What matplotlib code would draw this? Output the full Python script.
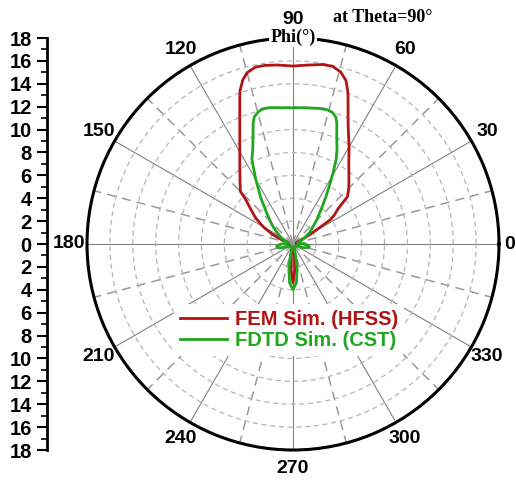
import numpy as np
import matplotlib
matplotlib.use("Agg")
import matplotlib.pyplot as plt

# Far-field pattern at Theta = 90 deg
red_phi = [0, 10, 20, 25, 28, 30, 33, 35, 38, 41, 45, 50, 55, 60, 65, 70, 72, 74.5,
           77.4, 80.5, 85, 90, 95, 99, 102, 105, 107, 109, 110, 115, 120, 125, 130,
           135, 137, 140, 145, 150, 155, 160, 165, 170, 180, 190, 200, 220, 240,
           255, 258, 262, 266, 270, 274, 278, 282, 285, 300, 320, 340, 350, 360]
red_r = [0.4, 0.3, 0.3, 0.5, 1.2, 2.0, 3.9, 4.4, 5.0, 6.3, 6.9, 7.6, 8.5, 9.8, 11.4,
         14.05, 15.0, 15.6, 15.9, 15.9, 15.7, 15.55, 15.7, 15.8, 15.8, 15.5, 15.0,
         14.2, 13.6, 11.0, 9.3, 8.1, 7.2, 6.5, 5.6, 4.9, 4.0, 3.0, 2.0, 1.0, 0.5,
         0.4, 0.4, 0.4, 0.3, 0.3, 0.3, 0.3, 0.4, 1.0, 2.3, 3.4, 2.3, 1.0, 0.4, 0.3,
         0.3, 0.3, 0.3, 0.4, 0.4]

green_phi = [0, 5, 10, 20, 25, 30, 35, 40, 45, 50, 55, 58, 61, 63, 65, 68, 70, 71.3,
             73.3, 75.6, 78, 85, 90, 95, 100, 103, 105, 107, 108.3, 110, 113, 116,
             120, 125, 130, 135, 140, 147, 155, 160, 165, 170, 175, 180, 185, 190,
             195, 200, 205, 210, 230, 250, 253, 257, 261, 265, 270, 275, 279, 283,
             287, 290, 310, 330, 335, 340, 345, 350, 355, 360]
green_r = [1.0, 0.6, 0.4, 0.6, 0.9, 1.3, 1.8, 2.2, 2.9, 3.7, 5.0, 6.0, 7.3, 8.3,
           9.1, 10.2, 11.2, 11.7, 12.0, 12.1, 12.1, 11.95, 11.9, 11.95, 12.1, 12.1,
           11.9, 11.6, 11.1, 10.2, 9.0, 8.2, 6.5, 4.9, 3.6, 2.8, 2.2, 1.5, 1.0, 0.6,
           0.4, 0.4, 0.6, 1.0, 1.35, 1.45, 1.3, 0.9, 0.5, 0.3, 0.3, 0.3, 0.4, 1.0,
           2.3, 3.4, 4.0, 3.4, 2.3, 1.0, 0.4, 0.3, 0.3, 0.3, 0.5, 0.9, 1.3, 1.45,
           1.35, 1.0]

angle_ticks = list(range(0, 360, 30))
r_ticks = list(range(2, 18, 2))

sans = "Liberation Sans"
serif = "Liberation Serif"

fig = plt.figure(figsize=(5.16, 4.86), dpi=100)
ax = fig.add_axes([87 / 516, 36 / 486, 412 / 516, 412 / 486], projection="polar")

ax.set_ylim(0, 18)
ax.set_yticks(r_ticks)
ax.set_yticklabels([])
ax.yaxis.grid(True, color="#b4b4b4", linestyle=(0, (4, 3)), linewidth=0.9)

# the "0" label sits closer to the circle (it is drawn separately below)
ax.set_xticks(np.deg2rad(angle_ticks))
ax.set_xticklabels(["" if a == 0 else str(a) for a in angle_ticks], fontsize=14,
                   fontweight="bold", family=sans)
ax.set_xticks(np.deg2rad(np.arange(15, 360, 30)), minor=True)
ax.xaxis.grid(True, which="major", color="#808080", linestyle="-", linewidth=0.8)
ax.xaxis.grid(True, which="minor", color="#999999", linestyle=(0, (6, 4)),
              linewidth=1.1)
ax.tick_params(axis="x", which="major", direction="in", length=5, width=1.5,
               pad=6)
ax.tick_params(axis="x", which="minor", direction="in", length=4, width=1.2)
ax.spines["polar"].set_linewidth(2.2)
ax.annotate(str(angle_ticks[0]), xy=(0, 18), xytext=(3.5, 0),
            textcoords="offset points", ha="left", va="center", fontsize=14,
            fontweight="bold", family=sans, annotation_clip=False)

ax.plot(np.deg2rad(red_phi), red_r, color="#b01515", linewidth=2.0,
        label="FEM Sim. (HFSS)", zorder=3)
ax.plot(np.deg2rad(green_phi), green_r, color="#1fa81f", linewidth=2.0,
        label="FDTD Sim. (CST)", zorder=4)

leg = ax.legend(loc="center", bbox_to_anchor=(289 / 516, 1 - 330 / 486),
                bbox_transform=fig.transFigure, frameon=True, framealpha=1,
                edgecolor="none", facecolor="white", labelcolor="linecolor",
                handlelength=2.3, handletextpad=0.4, labelspacing=0.1,
                borderpad=0.3, prop={"family": sans, "weight": "bold", "size": 14.5})
leg.set_zorder(5)

# radial scale drawn as a separate vertical axis on the left
ax2 = fig.add_axes([47 / 516, 36 / 486, 0.001, 412 / 486])
ax2.set_ylim(-18, 18)
ax2.set_yticks(range(-18, 19, 2))
ax2.set_yticklabels([str(abs(v)) for v in range(-18, 19, 2)], fontsize=14.5,
                    fontweight="bold", family=sans)
ax2.set_yticks(range(-17, 18, 2), minor=True)
ax2.tick_params(axis="y", which="major", length=7, width=1.5, pad=4)
ax2.tick_params(axis="y", which="minor", length=4, width=1.2)
ax2.set_xticks([])
for s in ["top", "right", "bottom"]:
    ax2.spines[s].set_visible(False)
ax2.spines["left"].set_linewidth(2)
ax2.patch.set_visible(False)

fig.text(293 / 516, 1 - 37 / 486, "Phi(°)", ha="center", va="center",
         fontsize=13, fontweight="bold", family=serif,
         bbox=dict(facecolor="white", edgecolor="none", pad=1))
fig.text(383 / 516, 1 - 17 / 486, "at Theta=90°", ha="center", va="center",
         fontsize=13, fontweight="bold", family=serif)

fig.savefig("out.png", dpi=100)
